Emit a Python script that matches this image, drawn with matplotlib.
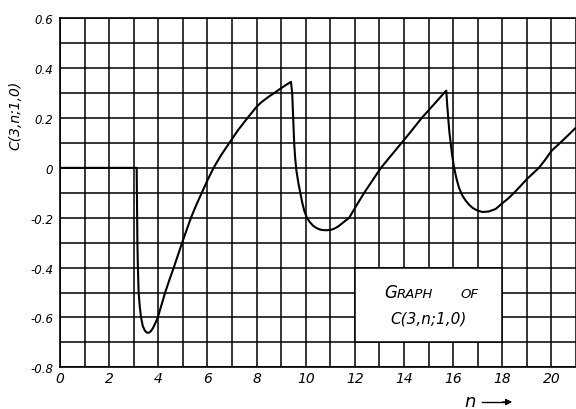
import matplotlib
matplotlib.use('Agg')
import matplotlib.pyplot as plt
from matplotlib.patches import Rectangle
from matplotlib.ticker import MultipleLocator

# values
n_values = [0.0, 3.12, 3.13, 3.14, 3.15, 3.17, 3.2, 3.25, 3.3, 3.37, 3.45, 3.52,
            3.6, 3.68, 3.77, 3.87, 3.98, 4.13, 4.28, 4.45, 4.63, 4.8, 4.97,
            5.15, 5.33, 5.55, 5.77, 6.0, 6.25, 6.55, 6.89, 7.25, 7.63, 7.82,
            8.0, 8.18, 8.35, 8.53, 8.72, 8.9, 9.05, 9.22, 9.4,
            9.45, 9.49, 9.53, 9.57, 9.62, 9.7, 9.78, 9.86, 9.95, 10.05, 10.17,
            10.3, 10.45, 10.6, 10.75, 10.89, 11.05, 11.2, 11.35, 11.5, 11.63,
            11.77, 12.07, 12.38, 12.72, 13.06, 13.48, 13.9, 14.3, 14.72, 15.22,
            15.72,
            15.76, 15.8, 15.85, 15.9, 15.96, 16.04, 16.14, 16.24, 16.36, 16.5,
            16.65, 16.8, 16.98, 17.19, 17.45, 17.73, 18.0, 18.25, 18.48, 18.75,
            19.0, 19.25, 19.49, 19.75, 20.0, 20.35, 20.65, 20.96]
c_values = [0.0, 0.0, -0.1, -0.2, -0.3, -0.4, -0.5, -0.56, -0.6, -0.635, -0.652,
            -0.66, -0.662, -0.657, -0.645, -0.625, -0.6, -0.55, -0.5, -0.45,
            -0.4, -0.35, -0.3, -0.25, -0.2, -0.148, -0.1, -0.05, 0.0, 0.05,
            0.1, 0.152, 0.2, 0.223, 0.245, 0.262, 0.275, 0.288, 0.3, 0.313,
            0.323, 0.334, 0.345,
            0.3, 0.2, 0.1, 0.04, -0.01, -0.06, -0.1, -0.14, -0.175, -0.2,
            -0.218, -0.232, -0.242, -0.248, -0.25, -0.25, -0.248, -0.242,
            -0.233, -0.221, -0.211, -0.2, -0.15, -0.1, -0.05, 0.0, 0.05, 0.1,
            0.148, 0.2, 0.255, 0.31,
            0.25, 0.2, 0.14, 0.1, 0.05, 0.0, -0.045, -0.08, -0.108, -0.13,
            -0.148, -0.161, -0.171, -0.177, -0.175, -0.165, -0.142, -0.122,
            -0.1, -0.072, -0.045, -0.022, 0.0, 0.033, 0.068, 0.1, 0.128, 0.158]

x_ticks = [0, 2, 4, 6, 8, 10, 12, 14, 16, 18, 20]
x_tick_labels = ['0', '2', '4', '6', '8', '10', '12', '14', '16', '18', '20']
y_ticks = [-0.8, -0.6, -0.4, -0.2, 0.0, 0.2, 0.4, 0.6]
y_tick_labels = ['-0.8', '-0.6', '-0.4', '-0.2', '0', '0.2', '0.4', '0.6']

fig = plt.figure(figsize=(5.76, 4.10), dpi=100)
ax = fig.add_axes([60 / 576, 41.7 / 410, 516 / 576, 349 / 410])

ax.set_xlim(0, 21)
ax.set_ylim(-0.8, 0.6)
ax.set_xticks(x_ticks)
ax.set_xticklabels(x_tick_labels, fontsize=10, style='italic')
ax.set_yticks(y_ticks)
ax.set_yticklabels(y_tick_labels, fontsize=8.5, style='italic')
ax.xaxis.set_minor_locator(MultipleLocator(1))
ax.yaxis.set_minor_locator(MultipleLocator(0.1))
ax.tick_params(which='both', length=0)
ax.tick_params(axis='x', pad=3)
ax.tick_params(axis='y', pad=5)

ax.set_axisbelow(True)
ax.grid(which='both', color='black', linewidth=1.1)
for side in ['left', 'bottom', 'top']:
    ax.spines[side].set_linewidth(1.2)
ax.spines['right'].set_visible(False)

# label box
ax.add_patch(Rectangle((12, -0.7), 6, 0.3, facecolor='white',
                       edgecolor='black', linewidth=1.1, zorder=1.5))
ax.text(13.19, -0.52, 'G', fontsize=12, style='italic', va='baseline', zorder=3)
ax.text(13.72, -0.52, 'RAPH', fontsize=9.5, style='italic', va='baseline', zorder=3)
ax.text(16.31, -0.52, 'OF', fontsize=9.5, style='italic', va='baseline', zorder=3)
ax.text(15.0, -0.62, 'C(3,n;1,0)', fontsize=11, style='italic',
        ha='center', va='baseline', zorder=3)

ax.plot(n_values, c_values, color='black', linewidth=1.5, zorder=2)

fig.text(15 / 576, 1 - 115 / 410, 'C(3,n;1,0)', rotation=90, fontsize=10,
         style='italic', ha='center', va='center')

fig.text(470 / 576, 1 - 402 / 410, 'n', fontsize=13, style='italic',
         ha='center', va='center')
fig.add_artist(plt.Line2D([482 / 576, 505 / 576], [1 - 403 / 410, 1 - 403 / 410],
                          color='black', linewidth=1.0))
ax.annotate('', xy=(515 / 576, 1 - 403 / 410), xycoords='figure fraction',
            xytext=(500 / 576, 1 - 403 / 410), textcoords='figure fraction',
            arrowprops=dict(arrowstyle='-|>', color='black', lw=1.0,
                            mutation_scale=9))

fig.savefig('out.png', dpi=100)
